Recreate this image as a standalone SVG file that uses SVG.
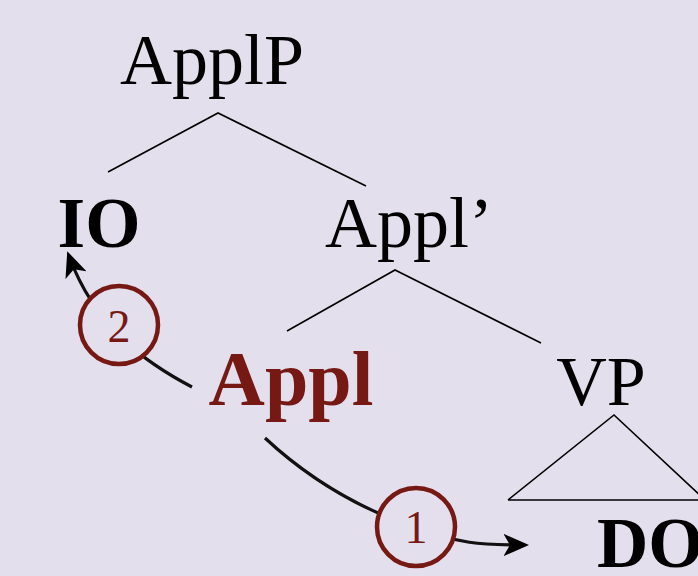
<svg xmlns="http://www.w3.org/2000/svg" width="698" height="576" viewBox="0 0 698 576">
  <defs>
    <style>
      .lbl { font-family: "Liberation Serif", "DejaVu Serif", serif; fill: #000; }
      .b { font-weight: bold; }
      .red { fill: #761915; }
      .branch { stroke: #000; stroke-width: 1.6; fill: none; }
      .move { stroke: #111; stroke-width: 3.2; fill: none; }
      .step { fill: #E4DFEC; stroke: #761915; stroke-width: 4.5; }
      .num { font-family: "Liberation Serif", "DejaVu Serif", serif; font-size: 46px; fill: #761915; text-anchor: middle; }
    </style>
    <marker id="head" viewBox="0 0 10 10" refX="8" refY="5" markerWidth="8" markerHeight="7" orient="auto" markerUnits="strokeWidth" preserveAspectRatio="none">
      <path d="M0,0 L10,5 L0,10 L2.5,5 Z" fill="#000"/>
    </marker>
  </defs>
  <rect width="698" height="576" fill="#E4DFEC"/>

  <g id="connectors">
    <path class="branch" d="M108,172 L218,113 L366,186"/>
    <path class="branch" d="M287,331 L395,270 L541,343"/>
    <path class="branch" d="M508,500 L614,415 L705,500 M508,500 L705,500"/>
    <path class="move" d="M265,438 C310,480 360,508 410,526 S480,545 524,545" marker-end="url(#head)"/>
    <path class="move" d="M192,387 C150,365 96,330 69,256" marker-end="url(#head)"/>
  </g>

  <g id="ApplP"><text class="lbl" x="212" y="84" font-size="72" text-anchor="middle">ApplP</text></g>
  <g id="IO"><text class="lbl b" x="99" y="247" font-size="71" text-anchor="middle">IO</text></g>
  <g id="ApplBar"><text class="lbl" x="409" y="247" font-size="72" text-anchor="middle">Appl’</text></g>
  <g id="Appl"><text class="lbl b red" x="291" y="405" font-size="78" text-anchor="middle">Appl</text></g>
  <g id="VP"><text class="lbl" x="601" y="405" font-size="70" text-anchor="middle">VP</text></g>
  <g id="DO"><text class="lbl b" x="597" y="567" font-size="71">DO</text></g>

  <g id="step2">
    <circle class="step" cx="119" cy="325" r="39"/>
    <text class="num" x="119" y="342">2</text>
  </g>
  <g id="step1">
    <circle class="step" cx="416" cy="527" r="39"/>
    <text class="num" x="416" y="543">1</text>
  </g>
</svg>
